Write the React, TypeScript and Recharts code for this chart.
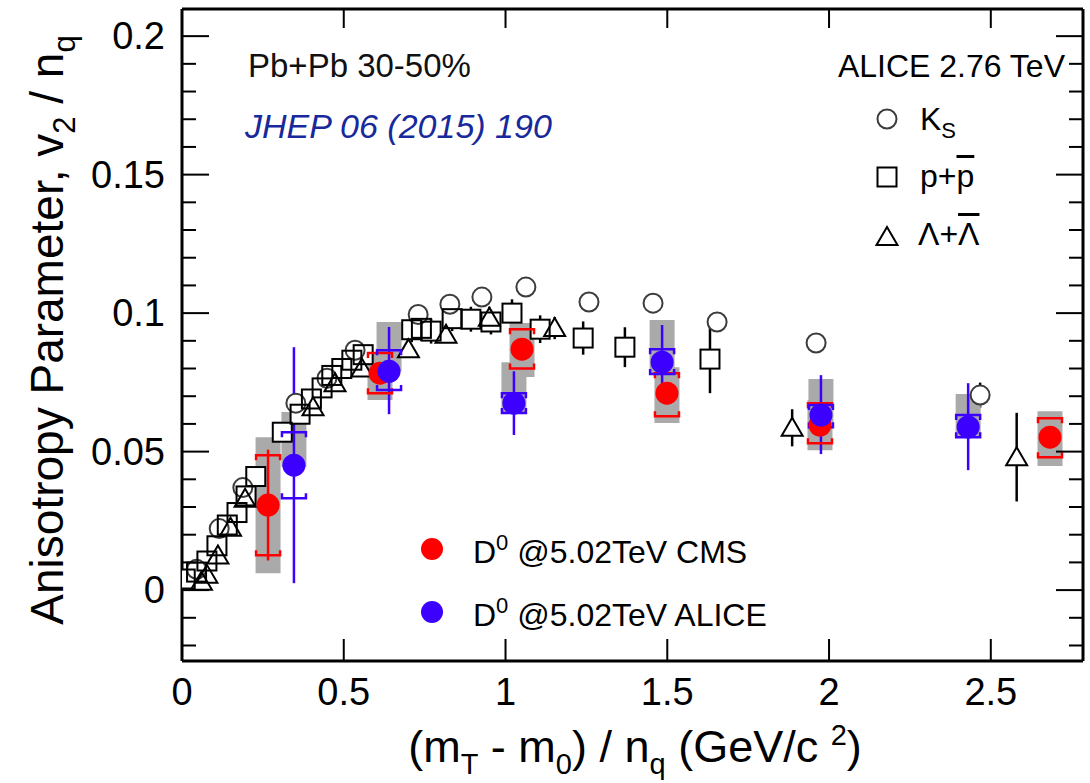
import React from 'react'
import { ScatterChart, Scatter, XAxis, YAxis, ErrorBar } from 'recharts'

const FONT = '"Liberation Sans", Arial, Helvetica, sans-serif'

// axis ticks
const xTicks = [0, 0.5, 1, 1.5, 2, 2.5]
const yTicks = [-0.02, -0.01, 0, 0.01, 0.02, 0.03, 0.04, 0.05, 0.06, 0.07, 0.08, 0.09, 0.1, 0.11, 0.12, 0.13, 0.14, 0.15, 0.16, 0.17, 0.18, 0.19, 0.2]
const yLabels = [0, 0.05, 0.1, 0.15, 0.2]

// ALICE 2.76 TeV, K_S (open circles)
const ksX = [0.045, 0.115, 0.188, 0.352, 0.448, 0.535, 0.73, 0.828, 0.927, 1.063, 1.258, 1.456, 1.654, 1.96, 2.467]
const ksY = [0.0075, 0.0222, 0.037, 0.0675, 0.0765, 0.0866, 0.0995, 0.1032, 0.1058, 0.1094, 0.104, 0.1036, 0.0968, 0.0892, 0.0704]
const ksErr = [0.001, 0.001, 0.001, 0.001, 0.001, 0.001, 0.001, 0.001, 0.0015, 0.002, 0.002, 0.002, 0.003, 0.003, 0.0045]

// ALICE 2.76 TeV, p + pbar (open squares)
const ppX = [0.01, 0.045, 0.077, 0.108, 0.14, 0.17, 0.198, 0.228, 0.31, 0.365, 0.4, 0.433, 0.463, 0.494, 0.525, 0.56, 0.71, 0.74, 0.77, 0.835, 0.893, 0.955, 1.02, 1.107, 1.24, 1.369, 1.632]
const ppY = [0.004, 0.0065, 0.0105, 0.016, 0.0235, 0.028, 0.034, 0.041, 0.057, 0.0635, 0.069, 0.073, 0.0775, 0.08, 0.083, 0.085, 0.094, 0.0945, 0.0935, 0.098, 0.0978, 0.0968, 0.1, 0.0942, 0.091, 0.0877, 0.0834]
const ppErr = [0.002, 0.002, 0.002, 0.002, 0.002, 0.002, 0.002, 0.002, 0.002, 0.002, 0.002, 0.002, 0.002, 0.002, 0.002, 0.002, 0.0045, 0.0045, 0.0045, 0.0045, 0.0045, 0.0045, 0.005, 0.005, 0.006, 0.0072, 0.0123]

// ALICE 2.76 TeV, Lambda + anti-Lambda (open triangles)
const laX = [0.06, 0.077, 0.111, 0.15, 0.195, 0.405, 0.473, 0.556, 0.7, 0.816, 0.95, 1.152, 1.886, 2.58]
const laY = [0.003, 0.0055, 0.0125, 0.0225, 0.033, 0.066, 0.0747, 0.08, 0.087, 0.0922, 0.0983, 0.0946, 0.0586, 0.048]
const laErr = [0.002, 0.002, 0.002, 0.002, 0.002, 0.002, 0.002, 0.002, 0.003, 0.003, 0.004, 0.004, 0.0067, 0.016]

// D0 @ 5.02 TeV CMS
const cmsX = [0.266, 0.612, 1.051, 1.499, 1.972, 2.683]
const cmsY = [0.0307, 0.0783, 0.087, 0.0711, 0.0596, 0.0552]
const cmsStat = [0.02, 0.003, 0.003, 0.004, 0.003, 0.003]
const cmsSysLo = [0.0126, 0.0711, 0.08, 0.0628, 0.053, 0.048]
const cmsSysHi = [0.0487, 0.0856, 0.0942, 0.0783, 0.0675, 0.062]
const cmsBoxLo = [0.0061, 0.0686, 0.0769, 0.0603, 0.0505, 0.0448]
const cmsBoxHi = [0.0552, 0.086, 0.0964, 0.0805, 0.0686, 0.0646]

// D0 @ 5.02 TeV ALICE
const aliX = [0.346, 0.64, 1.026, 1.484, 1.975, 2.43]
const aliY = [0.0451, 0.079, 0.0675, 0.0823, 0.0632, 0.0589]
const aliStatLo = [0.0025, 0.0635, 0.056, 0.0697, 0.0491, 0.0433]
const aliStatHi = [0.0877, 0.095, 0.079, 0.0957, 0.0776, 0.0747]
const aliSysLo = [0.0332, 0.0722, 0.0639, 0.078, 0.0588, 0.0552]
const aliSysHi = [0.057, 0.0866, 0.0711, 0.087, 0.0668, 0.0632]
const aliBoxLo = [0.0444, 0.079, 0.0639, 0.078, 0.0588, 0.0552]
const aliBoxHi = [0.0643, 0.0968, 0.0823, 0.0975, 0.0762, 0.0708]

const RED = '#ff0000'
const BLUE = '#3c00ff'
const GRAY = '#aaaaaa'

const ksRows = ksX.map((x, i) => ({ x, y: ksY[i], e: ksErr[i] }))
const ppRows = ppX.map((x, i) => ({ x, y: ppY[i], e: ppErr[i] }))
const laRows = laX.map((x, i) => ({ x, y: laY[i], e: laErr[i] }))

const cmsRows = cmsX.map((x, i) => ({ x, y: cmsY[i], e: cmsStat[i] }))
const cmsBoxRows = cmsX.map((x, i) => ({ x, y: cmsY[i], e: [cmsY[i] - cmsBoxLo[i], cmsBoxHi[i] - cmsY[i]] }))
const cmsLoRows = cmsX.map((x, i) => ({ x, y: cmsSysLo[i] }))
const cmsHiRows = cmsX.map((x, i) => ({ x, y: cmsSysHi[i] }))

const aliRows = aliX.map((x, i) => ({ x, y: aliY[i], e: [aliY[i] - aliStatLo[i], aliStatHi[i] - aliY[i]] }))
const aliBoxRows = aliX.map((x, i) => ({ x, y: aliY[i], e: [aliY[i] - aliBoxLo[i], aliBoxHi[i] - aliY[i]] }))
const aliLoRows = aliX.map((x, i) => ({ x, y: aliSysLo[i] }))
const aliHiRows = aliX.map((x, i) => ({ x, y: aliSysHi[i] }))

// marker glyphs
const circle = (fill: string, stroke: string) => (p: any) =>
  <circle cx={p.cx} cy={p.cy} r={9.5} fill={fill} stroke={stroke} strokeWidth={2} />
const square = (fill: string, stroke: string) => (p: any) =>
  <rect x={p.cx - 9.5} y={p.cy - 9.5} width={19} height={19} fill={fill} stroke={stroke} strokeWidth={2} />
const triangle = (fill: string, stroke: string) => (p: any) =>
  <polygon points={`${p.cx},${p.cy - 10} ${p.cx - 10.5},${p.cy + 8} ${p.cx + 10.5},${p.cy + 8}`} fill={fill} stroke={stroke} strokeWidth={2} />
const dot = (color: string) => (p: any) => <circle cx={p.cx} cy={p.cy} r={11.5} fill={color} />
const nothing = () => <g />
const bracket = (color: string, dir: number) => (p: any) =>
  <path d={`M${p.cx - 12},${p.cy + dir * 5} L${p.cx - 12},${p.cy} L${p.cx + 12},${p.cy} L${p.cx + 12},${p.cy + dir * 5}`} fill="none" stroke={color} strokeWidth={2.5} />

const LeftTick = ({ x, y, payload }: any) => {
  const major = yLabels.includes(payload.value)
  return (
    <g>
      <line x1={x} x2={x + (major ? 27 : 14)} y1={y} y2={y} stroke="#000" strokeWidth={2} />
      {major && (
        <text x={x - 17} y={y + 13} textAnchor="end" fontSize={38} fontFamily={FONT} fill="#000">
          {String(payload.value)}
        </text>
      )}
    </g>
  )
}

const RightTick = ({ x, y, payload }: any) => {
  const major = yLabels.includes(payload.value)
  return <line x1={x} x2={x - (major ? 27 : 14)} y1={y} y2={y} stroke="#000" strokeWidth={2} />
}

const BottomTick = ({ x, y, payload }: any) => (
  <g>
    <line x1={x} x2={x} y1={y} y2={y - 22} stroke="#000" strokeWidth={2} />
    <text x={x} y={y + 44} textAnchor="middle" fontSize={38} fontFamily={FONT} fill="#000">
      {String(payload.value)}
    </text>
  </g>
)

const TopTick = ({ x, y }: any) => <line x1={x} x2={x} y1={y} y2={y + 19} stroke="#000" strokeWidth={2} />

// html text placed by its baseline (line-height 1, Liberation Sans)
const Txt = ({ x, base, size, anchor = 'start', style, children }: any) => {
  const pos: any = { position: 'absolute', top: base - 0.8465 * size, fontSize: size, lineHeight: 1, whiteSpace: 'nowrap' }
  if (anchor === 'end') pos.right = 1090 - x
  else if (anchor === 'middle') { pos.left = x; pos.transform = 'translateX(-50%)' }
  else pos.left = x
  return <div style={{ ...pos, ...style }}>{children}</div>
}

const Sub = ({ children, size, shift }: any) => (
  <span style={{ fontSize: size, position: 'relative', top: shift }}>{children}</span>
)

const axisLine = { stroke: '#000', strokeWidth: 3 }

export default function App() {
  const xDomain = [0, 2.785]
  const yDomain = [-0.0256, 0.2098]
  return (
    <div style={{ position: 'relative', width: 1090, height: 783, fontFamily: FONT, color: '#000', background: '#fff' }}>
      <style>{'body{margin:0}'}</style>
      <ScatterChart width={1090} height={783} margin={{ top: 8, right: 6, bottom: 0, left: 0 }}>
        <XAxis xAxisId="b" type="number" dataKey="x" domain={xDomain} ticks={xTicks} interval={0} allowDataOverflow
          height={122} tickSize={0} tickMargin={0} tickLine={false} axisLine={axisLine} tick={<BottomTick />} />
        <XAxis xAxisId="t" orientation="top" type="number" dataKey="x" domain={xDomain} ticks={xTicks} interval={0} allowDataOverflow
          height={1} tickSize={0} tickMargin={0} tickLine={false} axisLine={axisLine} tick={<TopTick />} />
        <YAxis yAxisId="l" type="number" dataKey="y" domain={yDomain} ticks={yTicks} interval={0} allowDataOverflow
          width={182} tickSize={0} tickMargin={0} tickLine={false} axisLine={axisLine} tick={<LeftTick />} />
        <YAxis yAxisId="r" orientation="right" type="number" dataKey="y" domain={yDomain} ticks={yTicks} interval={0} allowDataOverflow
          width={1} tickSize={0} tickMargin={0} tickLine={false} axisLine={axisLine} tick={<RightTick />} />

        {/* invisible series so the frame axes (top / right) get drawn */}
        <Scatter xAxisId="t" yAxisId="r" data={ksRows} shape={nothing} isAnimationActive={false} />

        {/* hadrons: error bars hidden behind white marker interiors */}
        <Scatter xAxisId="b" yAxisId="l" data={ksRows} shape={circle('#fff', 'none')} isAnimationActive={false}>
          <ErrorBar dataKey="e" direction="y" width={0} stroke="#000" strokeWidth={2.5} isAnimationActive={false} />
        </Scatter>
        <Scatter xAxisId="b" yAxisId="l" data={ppRows} shape={square('#fff', 'none')} isAnimationActive={false}>
          <ErrorBar dataKey="e" direction="y" width={0} stroke="#000" strokeWidth={2.5} isAnimationActive={false} />
        </Scatter>
        <Scatter xAxisId="b" yAxisId="l" data={laRows} shape={triangle('#fff', 'none')} isAnimationActive={false}>
          <ErrorBar dataKey="e" direction="y" width={0} stroke="#000" strokeWidth={2.5} isAnimationActive={false} />
        </Scatter>
        <Scatter xAxisId="b" yAxisId="l" data={ksRows} shape={circle('none', '#3c3c3c')} isAnimationActive={false} />
        <Scatter xAxisId="b" yAxisId="l" data={ppRows} shape={square('none', '#000')} isAnimationActive={false} />
        <Scatter xAxisId="b" yAxisId="l" data={laRows} shape={triangle('none', '#000')} isAnimationActive={false} />

        {/* D0 grey boxes */}
        <Scatter xAxisId="b" yAxisId="l" data={cmsBoxRows} shape={nothing} isAnimationActive={false}>
          <ErrorBar dataKey="e" direction="y" width={0} stroke={GRAY} strokeWidth={25} isAnimationActive={false} />
        </Scatter>
        <Scatter xAxisId="b" yAxisId="l" data={aliBoxRows} shape={nothing} isAnimationActive={false}>
          <ErrorBar dataKey="e" direction="y" width={0} stroke={GRAY} strokeWidth={25} isAnimationActive={false} />
        </Scatter>

        {/* systematic brackets */}
        <Scatter xAxisId="b" yAxisId="l" data={cmsLoRows} shape={bracket(RED, -1)} isAnimationActive={false} />
        <Scatter xAxisId="b" yAxisId="l" data={cmsHiRows} shape={bracket(RED, 1)} isAnimationActive={false} />
        <Scatter xAxisId="b" yAxisId="l" data={aliLoRows} shape={bracket(BLUE, -1)} isAnimationActive={false} />
        <Scatter xAxisId="b" yAxisId="l" data={aliHiRows} shape={bracket(BLUE, 1)} isAnimationActive={false} />

        <Scatter xAxisId="b" yAxisId="l" data={cmsRows} shape={dot(RED)} isAnimationActive={false}>
          <ErrorBar dataKey="e" direction="y" width={0} stroke={RED} strokeWidth={2.5} isAnimationActive={false} />
        </Scatter>
        <Scatter xAxisId="b" yAxisId="l" data={aliRows} shape={dot(BLUE)} isAnimationActive={false}>
          <ErrorBar dataKey="e" direction="y" width={0} stroke={BLUE} strokeWidth={2.5} isAnimationActive={false} />
        </Scatter>
      </ScatterChart>

      <div style={{ position: 'absolute', left: 0, top: 0, width: 1090, height: 783, pointerEvents: 'none' }}>
        <svg width={1090} height={783} style={{ position: 'absolute', left: 0, top: 0 }}>
          <circle cx={887} cy={119} r={9.5} fill="none" stroke="#3c3c3c" strokeWidth={2} />
          <rect x={877.5} y={167.5} width={19} height={19} fill="none" stroke="#000" strokeWidth={2} />
          <polygon points="887,227 876.5,245 897.5,245" fill="none" stroke="#000" strokeWidth={2} />
          <circle cx={432} cy={549} r={11} fill={RED} />
          <circle cx={432} cy={612} r={11} fill={BLUE} />
        </svg>

        <Txt x={248} base={77} size={33} style={{ color: '#111' }}>Pb+Pb 30-50%</Txt>
        <Txt x={245} base={138} size={34} style={{ color: '#17299b', fontStyle: 'italic' }}>JHEP 06 (2015) 190</Txt>
        <Txt x={1065} base={77} size={32} anchor="end">ALICE 2.76 TeV</Txt>
        <Txt x={920} base={130} size={32}>K<Sub size={22} shift={8}>S</Sub></Txt>
        <Txt x={920} base={187} size={32}>p+<span style={{ textDecoration: 'overline' }}>p</span></Txt>
        <Txt x={918} base={245} size={32}>Λ+<span style={{ textDecoration: 'overline' }}>Λ</span></Txt>

        <Txt x={473} base={563} size={32}>D<Sub size={22} shift={-13}>0</Sub> @5.02TeV CMS</Txt>
        <Txt x={473} base={626} size={32}>D<Sub size={22} shift={-13}>0</Sub> @5.02TeV ALICE</Txt>

        <Txt x={635} base={762} size={45} anchor="middle">
          (m<Sub size={29} shift={12}>T</Sub> - m<Sub size={29} shift={12}>0</Sub>) / n<Sub size={29} shift={12}>q</Sub> (GeV/c <Sub size={29} shift={-17}>2</Sub>)
        </Txt>

        <div style={{ position: 'absolute', left: 47, top: 330, transform: 'translate(-50%, -50%) rotate(-90deg)', fontSize: 46, lineHeight: 1, whiteSpace: 'nowrap' }}>
          Anisotropy Parameter, v<Sub size={31} shift={12}>2</Sub> / n<Sub size={31} shift={12}>q</Sub>
        </div>
      </div>
    </div>
  )
}
